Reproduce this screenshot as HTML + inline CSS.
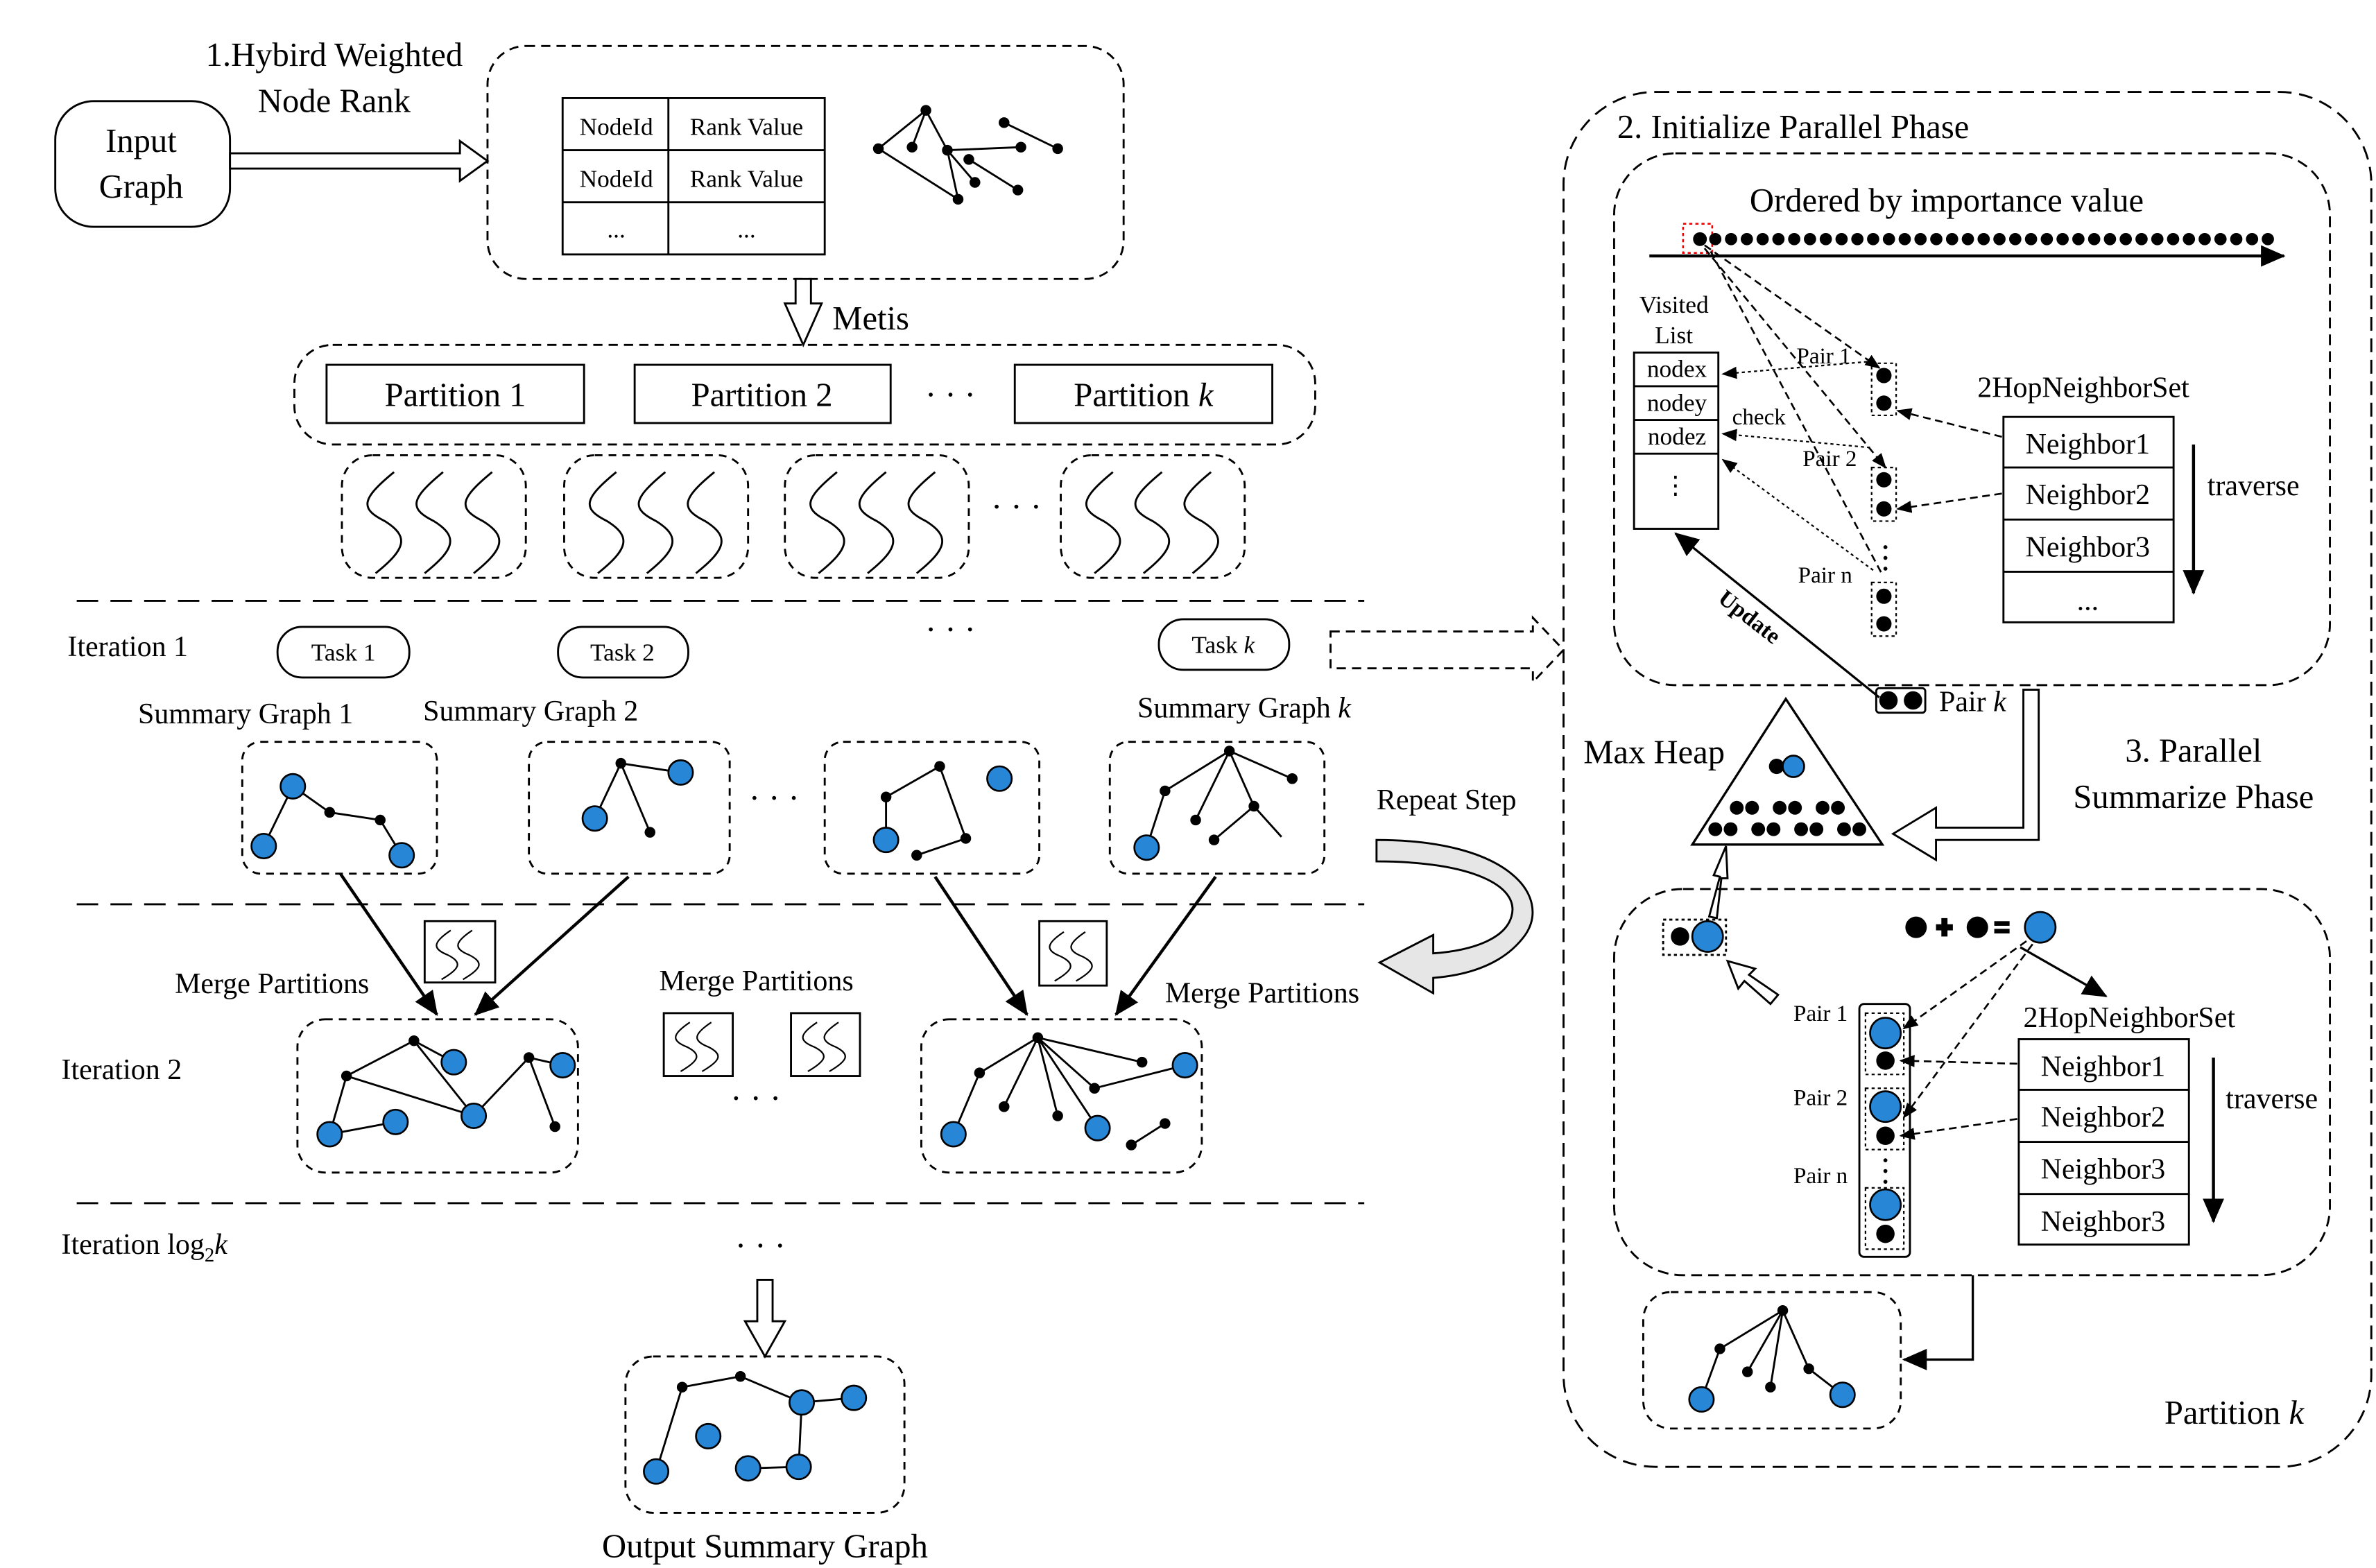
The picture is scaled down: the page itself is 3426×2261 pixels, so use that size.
<!DOCTYPE html>
<html><head><meta charset="utf-8"><style>html,body{margin:0;padding:0;background:#fff}svg{display:block}svg text{font-family:"Liberation Serif",serif;fill:#000}</style></head>
<body>
<svg width="3426" height="2261" viewBox="0 0 1550 1023" xmlns="http://www.w3.org/2000/svg" font-family="Liberation Serif, serif">
<defs>
<marker id="ah" markerWidth="10" markerHeight="10" refX="9" refY="5" orient="auto" markerUnits="userSpaceOnUse"><path d="M0,1 L10,5 L0,9 Z" fill="#000"/></marker>
<marker id="ahb" markerWidth="16" markerHeight="14" refX="15" refY="7" orient="auto" markerUnits="userSpaceOnUse"><path d="M0,0 L16,7 L0,14 Z" fill="#000"/></marker>
<g id="sq"><path d="M14,6 C-8,24 -8,30 8,38 C24,48 22,56 2,72" fill="none" stroke="#000" stroke-width="1.3"/></g>
<g id="sqs"><path d="M8,4 C-4,12 -4,16 6,20 C16,25 14,29 2,36" fill="none" stroke="#000" stroke-width="1"/></g>
</defs>
<g fill="none" stroke="#000" stroke-width="1.3">
<rect x="36" y="66" width="114" height="82" rx="25"/>
<polygon points="150,100 300,100 300,92 318,105 300,118 300,110 150,110" fill="#fff"/>
<rect x="318" y="30" width="415" height="152" rx="25" stroke-dasharray="6,4"/>
<rect x="367" y="64" width="171" height="102"/>
<line x1="367" y1="98" x2="538" y2="98"/><line x1="367" y1="132" x2="538" y2="132"/><line x1="436" y1="64" x2="436" y2="166"/>
<path d="M573,97 L604,72 L595,96 M604,72 L618,98 L625,130 L573,97 M618,98 L666,96 M632,104 L664,124 M618,98 L636,119 M655,80 L690,97"/>
<polygon points="519,182 529,182 529,198 536,198 524,225 512,198 519,198" fill="#fff"/>
<rect x="192" y="225" width="666" height="65" rx="25" stroke-dasharray="6,4"/>
<rect x="213" y="238" width="168" height="38"/><rect x="414" y="238" width="167" height="38"/><rect x="662" y="238" width="168" height="38"/>
<rect x="223" y="297" width="120" height="80" rx="20" stroke-dasharray="5,4"/>
<rect x="368" y="297" width="120" height="80" rx="20" stroke-dasharray="5,4"/>
<rect x="512" y="297" width="120" height="80" rx="20" stroke-dasharray="5,4"/>
<rect x="692" y="297" width="120" height="80" rx="20" stroke-dasharray="5,4"/>
<g stroke-dasharray="14,8"><line x1="50" y1="392" x2="890" y2="392"/><line x1="50" y1="590" x2="890" y2="590"/><line x1="50" y1="785" x2="890" y2="785"/></g>
<rect x="181" y="409" width="86" height="33" rx="16"/><rect x="364" y="409" width="85" height="33" rx="16"/><rect x="756" y="404" width="85" height="33" rx="16"/>
<polygon points="868,412 1000,412 1000,403 1020,424 1000,445 1000,436 868,436" stroke-dasharray="6,4"/>
<rect x="158" y="484" width="127" height="86" rx="12" stroke-dasharray="5,4"/>
<rect x="345" y="484" width="131" height="86" rx="12" stroke-dasharray="5,4"/>
<rect x="538" y="484" width="140" height="86" rx="12" stroke-dasharray="5,4"/>
<rect x="724" y="484" width="140" height="86" rx="12" stroke-dasharray="5,4"/>
<path d="M191,513 L172,552 M191,513 L215,530 L248,535 L262,558"/>
<path d="M405,498 L388,534 M405,498 L444,504 M405,498 L424,543"/>
<path d="M578,520 L613,500 L630,547 L598,558 M578,520 L578,548"/>
<path d="M802,490 L760,516 L748,553 M802,490 L780,535 M802,490 L818,526 L792,548 M802,490 L843,508 M818,526 L836,546"/>
<g stroke-width="2" marker-end="url(#ahb)"><line x1="222" y1="570" x2="285" y2="662"/><line x1="410" y1="572" x2="310" y2="662"/><line x1="610" y1="572" x2="670" y2="662"/><line x1="793" y1="572" x2="728" y2="662"/></g>
<rect x="277" y="601" width="46" height="40"/><rect x="678" y="601" width="44" height="42"/><rect x="433" y="661" width="45" height="41"/><rect x="516" y="661" width="45" height="41"/>
<rect x="194" y="665" width="183" height="100" rx="18" stroke-dasharray="5,4"/>
<rect x="601" y="665" width="183" height="100" rx="18" stroke-dasharray="5,4"/>
<path d="M215,740 L258,732 M215,740 L226,702 L270,679 L296,693 M270,679 L309,728 M226,702 L309,728 L345,690 L367,695 M345,690 L362,735"/>
<path d="M622,740 L639,700 L677,677 L655,722 M677,677 L690,728 M677,677 L716,736 M677,677 L714,710 L773,695 M677,677 L745,693 M738,747 L760,733"/>
<path d="M898,548 C985,548 1012,585 995,610 C982,628 960,636 935,638 L935,648 L900,628 L935,610 L935,622 C962,620 982,612 986,598 C992,578 960,562 898,562 Z" fill="#e6e6e6"/>
<polygon points="494,835 504,835 504,862 512,862 499,885 486,862 494,862" fill="#fff"/>
<rect x="408" y="885" width="182" height="102" rx="18" stroke-dasharray="5,4"/>
<path d="M428,960 L445,905 L483,898 L523,915 L557,912 M523,915 L521,957 L488,958"/>
<rect x="1020" y="60" width="527" height="897" rx="60" stroke-dasharray="9,5"/>
<rect x="1053" y="100" width="467" height="347" rx="40" stroke-dasharray="7,4"/>
<line x1="1076" y1="167" x2="1490" y2="167" stroke-width="2" marker-end="url(#ahb)"/>
<rect x="1098" y="146" width="19" height="19" stroke="#e00" stroke-dasharray="2,2" stroke-width="1.2"/>
<rect x="1066" y="230" width="55" height="115"/>
<line x1="1066" y1="252" x2="1121" y2="252"/><line x1="1066" y1="274" x2="1121" y2="274"/><line x1="1066" y1="296" x2="1121" y2="296"/>
<g stroke-dasharray="5,3" stroke-width="1.2">
<line x1="1112" y1="160" x2="1226" y2="240" marker-end="url(#ah)"/>
<line x1="1112" y1="162" x2="1230" y2="305" marker-end="url(#ah)"/>
<line x1="1116" y1="164" x2="1228" y2="375"/>
<line x1="1306" y1="285" x2="1238" y2="268" marker-end="url(#ah)"/>
<line x1="1306" y1="322" x2="1238" y2="332" marker-end="url(#ah)"/>
</g>
<g stroke-dasharray="2,2" stroke-width="1">
<line x1="1218" y1="236" x2="1124" y2="244" marker-end="url(#ah)"/>
<line x1="1220" y1="292" x2="1124" y2="283" marker-end="url(#ah)"/>
<line x1="1222" y1="372" x2="1124" y2="300" marker-end="url(#ah)"/>
<rect x="1221" y="237" width="16" height="34"/><rect x="1221" y="305" width="16" height="35"/><rect x="1221" y="380" width="16" height="35"/>
</g>
<rect x="1307" y="272" width="111" height="134"/>
<line x1="1307" y1="305" x2="1418" y2="305"/><line x1="1307" y1="339" x2="1418" y2="339"/><line x1="1307" y1="373" x2="1418" y2="373"/>
<line x1="1431" y1="290" x2="1431" y2="387" stroke-width="2" marker-end="url(#ahb)"/>
<rect x="1224" y="449" width="32" height="16" rx="2"/>
<line x1="1226" y1="455" x2="1093" y2="348" stroke-width="1.5" marker-end="url(#ahb)"/>
<polygon points="1165,456 1104,551 1228,551" stroke-width="1.5"/>
<polygon points="1320,450 1330,450 1330,548 1263,548 1263,561 1235,544 1263,527 1263,540 1320,540" fill="#fff"/>
<polygon points="1115,598 1122,572 1118,571 1126,552 1127,573 1123,573 1120,599" fill="#fff"/>
<rect x="1053" y="580" width="467" height="252" rx="45" stroke-dasharray="7,4"/>
<rect x="1085" y="600" width="41" height="23" stroke-dasharray="2,2"/>
<polygon points="1160,649 1155,655 1138,640 1134,645 1127,627 1145,632 1141,636" fill="#fff"/>
<line x1="1318" y1="618" x2="1374" y2="650" stroke-width="1.5" marker-end="url(#ahb)"/>
<g stroke-dasharray="5,3" stroke-width="1.2">
<line x1="1322" y1="614" x2="1242" y2="671" marker-end="url(#ah)"/>
<line x1="1326" y1="616" x2="1242" y2="729" marker-end="url(#ah)"/>
<line x1="1316" y1="694" x2="1240" y2="692" marker-end="url(#ah)"/>
<line x1="1316" y1="730" x2="1240" y2="741" marker-end="url(#ah)"/>
</g>
<rect x="1213" y="655" width="33" height="165" rx="3"/>
<g stroke-dasharray="2,2" stroke-width="1"><rect x="1217" y="661" width="25" height="40"/><rect x="1217" y="710" width="25" height="40"/><rect x="1217" y="775" width="25" height="40"/></g>
<rect x="1317" y="678" width="111" height="134"/>
<line x1="1317" y1="711" x2="1428" y2="711"/><line x1="1317" y1="745" x2="1428" y2="745"/><line x1="1317" y1="779" x2="1428" y2="779"/>
<line x1="1444" y1="690" x2="1444" y2="797" stroke-width="2" marker-end="url(#ahb)"/>
<rect x="1072" y="843" width="168" height="89" rx="18" stroke-dasharray="5,4"/>
<polyline points="1287,832 1287,887 1242,887" stroke-width="1.5" marker-end="url(#ahb)"/>
<path d="M1163,855 L1122,880 L1110,913 M1163,855 L1140,895 M1163,855 L1180,893 L1202,910 M1155,905 L1163,855"/>
</g>
<g>
<use href="#sq" x="243" y="302"/><use href="#sq" x="275" y="302"/><use href="#sq" x="307" y="302"/>
<use href="#sq" x="388" y="302"/><use href="#sq" x="420" y="302"/><use href="#sq" x="452" y="302"/>
<use href="#sq" x="532" y="302"/><use href="#sq" x="564" y="302"/><use href="#sq" x="596" y="302"/>
<use href="#sq" x="712" y="302"/><use href="#sq" x="744" y="302"/><use href="#sq" x="776" y="302"/>
<use href="#sqs" x="286" y="603"/><use href="#sqs" x="300" y="603"/>
<use href="#sqs" x="686" y="604"/><use href="#sqs" x="700" y="604"/>
<use href="#sqs" x="442" y="663"/><use href="#sqs" x="456" y="663"/>
<use href="#sqs" x="525" y="663"/><use href="#sqs" x="539" y="663"/>
</g>
<g fill="#000">
<circle cx="573" cy="97" r="3.5"/><circle cx="604" cy="72" r="3.5"/><circle cx="595" cy="96" r="3.5"/><circle cx="618" cy="98" r="3.5"/><circle cx="625" cy="130" r="3.5"/><circle cx="636" cy="119" r="3.5"/><circle cx="666" cy="96" r="3.5"/><circle cx="655" cy="80" r="3.5"/><circle cx="690" cy="97" r="3.5"/><circle cx="632" cy="104" r="3.5"/><circle cx="664" cy="124" r="3.5"/>
<circle cx="215" cy="530" r="3.5"/><circle cx="248" cy="535" r="3.5"/>
<circle cx="405" cy="498" r="3.5"/><circle cx="424" cy="543" r="3.5"/>
<circle cx="578" cy="520" r="3.5"/><circle cx="613" cy="500" r="3.5"/><circle cx="630" cy="547" r="3.5"/><circle cx="598" cy="558" r="3.5"/>
<circle cx="802" cy="490" r="3.5"/><circle cx="760" cy="516" r="3.5"/><circle cx="843" cy="508" r="3.5"/><circle cx="780" cy="535" r="3.5"/><circle cx="792" cy="548" r="3.5"/><circle cx="818" cy="526" r="3.5"/>
<circle cx="270" cy="679" r="3.5"/><circle cx="226" cy="702" r="3.5"/><circle cx="345" cy="690" r="3.5"/><circle cx="362" cy="735" r="3.5"/>
<circle cx="677" cy="677" r="3.5"/><circle cx="639" cy="700" r="3.5"/><circle cx="655" cy="722" r="3.5"/><circle cx="690" cy="728" r="3.5"/><circle cx="714" cy="710" r="3.5"/><circle cx="745" cy="693" r="3.5"/><circle cx="760" cy="733" r="3.5"/><circle cx="738" cy="747" r="3.5"/>
<circle cx="445" cy="905" r="3.5"/><circle cx="483" cy="898" r="3.5"/>
<circle cx="1163" cy="855" r="3.5"/><circle cx="1122" cy="880" r="3.5"/><circle cx="1180" cy="893" r="3.5"/><circle cx="1155" cy="905" r="3.5"/><circle cx="1140" cy="895" r="3.5"/>
<circle cx="1109" cy="156" r="4.5"/>
<circle cx="1229" cy="245" r="5"/><circle cx="1229" cy="263" r="5"/><circle cx="1229" cy="313" r="5"/><circle cx="1229" cy="332" r="5"/><circle cx="1229" cy="389" r="5"/><circle cx="1229" cy="407" r="5"/>
<circle cx="1232" cy="457" r="6"/><circle cx="1248" cy="457" r="6"/>
<circle cx="1096" cy="611" r="6"/>
<circle cx="1250" cy="605" r="7"/><circle cx="1290" cy="605" r="7"/>
<rect x="1263" y="603" width="11" height="4"/><rect x="1266.5" y="599" width="4" height="12"/>
<rect x="1301" y="601" width="10" height="3"/><rect x="1301" y="606" width="10" height="3"/>
<circle cx="1230" cy="692" r="6"/><circle cx="1230" cy="741" r="6"/><circle cx="1230" cy="805" r="6"/>
<circle cx="1159" cy="500" r="5"/>
<g id="pr"><circle cx="1133" cy="527" r="4.5"/><circle cx="1143" cy="527" r="4.5"/></g>
<use href="#pr" x="28"/><use href="#pr" x="56"/>
<use href="#pr" x="-14" y="14"/><use href="#pr" x="14" y="14"/><use href="#pr" x="42" y="14"/><use href="#pr" x="70" y="14"/>
</g>
<g fill="#000"><circle cx="1230" cy="357" r="1.3"/><circle cx="1230" cy="364" r="1.3"/><circle cx="1230" cy="371" r="1.3"/><circle cx="1230" cy="757" r="1.3"/><circle cx="1230" cy="764" r="1.3"/><circle cx="1230" cy="771" r="1.3"/></g>
<path d="M1119,156 H1480" stroke="#000" stroke-width="8" stroke-linecap="round" stroke-dasharray="0,10.3"/>
<g fill="#2787d6" stroke="#000" stroke-width="1.2">
<circle cx="191" cy="513" r="8"/><circle cx="172" cy="552" r="8"/><circle cx="262" cy="558" r="8"/>
<circle cx="444" cy="504" r="8"/><circle cx="388" cy="534" r="8"/>
<circle cx="652" cy="508" r="8"/><circle cx="578" cy="548" r="8"/>
<circle cx="748" cy="553" r="8"/>
<circle cx="296" cy="693" r="8"/><circle cx="258" cy="732" r="8"/><circle cx="215" cy="740" r="8"/><circle cx="309" cy="728" r="8"/><circle cx="367" cy="695" r="8"/>
<circle cx="622" cy="740" r="8"/><circle cx="716" cy="736" r="8"/><circle cx="773" cy="695" r="8"/>
<circle cx="523" cy="915" r="8"/><circle cx="557" cy="912" r="8"/><circle cx="462" cy="937" r="8"/><circle cx="428" cy="960" r="8"/><circle cx="488" cy="958" r="8"/><circle cx="521" cy="957" r="8"/>
<circle cx="1110" cy="913" r="8"/><circle cx="1202" cy="910" r="8"/>
<circle cx="1114" cy="611" r="10"/><circle cx="1331" cy="605" r="10"/>
<circle cx="1230" cy="674" r="10"/><circle cx="1230" cy="722" r="10"/><circle cx="1230" cy="786" r="10"/>
<circle cx="1170" cy="500" r="7"/>
</g>
<g font-size="22" text-anchor="middle" font-family="Liberation Serif, serif">
<text x="92" y="99">Input</text><text x="92" y="129">Graph</text>
<text x="218" y="43">1.Hybird Weighted</text><text x="218" y="73">Node Rank</text>
<text x="297" y="265">Partition 1</text><text x="497" y="265">Partition 2</text><text x="746" y="265">Partition <tspan font-style="italic">k</tspan></text>
<text x="620" y="265">· · ·</text><text x="663" y="338">· · ·</text><text x="620" y="418">· · ·</text><text x="505" y="528">· · ·</text><text x="493" y="724">· · ·</text><text x="496" y="820">· · ·</text>
<text x="499" y="1016">Output Summary Graph</text>
<text x="1270" y="138">Ordered by importance value</text>
<text x="1431" y="497">3. Parallel</text><text x="1431" y="527">Summarize Phase</text>
</g>
<g font-size="22" font-family="Liberation Serif, serif"><text x="543" y="215">Metis</text><text x="1055" y="90">2. Initialize Parallel Phase</text><text x="1033" y="498">Max Heap</text><text x="1412" y="929">Partition <tspan font-style="italic">k</tspan></text></g>
<g font-size="16" text-anchor="middle" font-family="Liberation Serif, serif">
<text x="402" y="88">NodeId</text><text x="487" y="88">Rank Value</text><text x="402" y="122">NodeId</text><text x="487" y="122">Rank Value</text><text x="402" y="155">...</text><text x="487" y="155">...</text>
<text x="224" y="431">Task 1</text><text x="406" y="431">Task 2</text><text x="798" y="426">Task <tspan font-style="italic">k</tspan></text>
<text x="1092" y="204">Visited</text><text x="1092" y="224">List</text>
<text x="1094" y="246">nodex</text><text x="1094" y="268">nodey</text><text x="1094" y="290">nodez</text><text x="1093" y="322">⋮</text>
</g>
<g font-size="15" font-family="Liberation Serif, serif"><text x="1172" y="237">Pair 1</text><text x="1176" y="304">Pair 2</text><text x="1173" y="380">Pair n</text><text x="1130" y="277">check</text>
<text x="1170" y="666">Pair 1</text><text x="1170" y="721">Pair 2</text><text x="1170" y="772">Pair n</text>
<text transform="translate(1120,392) rotate(38)" font-weight="bold" font-size="15">Update</text></g>
<g font-size="19" font-family="Liberation Serif, serif">
<text x="44" y="428">Iteration 1</text><text x="40" y="704">Iteration 2</text><text x="40" y="818">Iteration log<tspan font-size="13" dy="5">2</tspan><tspan dy="-5" font-style="italic">k</tspan></text>
<text x="90" y="472">Summary Graph 1</text><text x="276" y="470">Summary Graph 2</text><text x="742" y="468">Summary Graph <tspan font-style="italic">k</tspan></text>
<text x="114" y="648">Merge Partitions</text><text x="430" y="646">Merge Partitions</text><text x="760" y="654">Merge Partitions</text>
<text x="898" y="528">Repeat Step</text>
<text x="1290" y="259">2HopNeighborSet</text><text x="1320" y="670">2HopNeighborSet</text>
<text x="1440" y="323">traverse</text><text x="1452" y="723">traverse</text>
<text x="1265" y="464">Pair <tspan font-style="italic">k</tspan></text>
</g>
<g font-size="19" text-anchor="middle" font-family="Liberation Serif, serif">
<text x="1362" y="296">Neighbor1</text><text x="1362" y="329">Neighbor2</text><text x="1362" y="363">Neighbor3</text><text x="1362" y="398">...</text>
<text x="1372" y="702">Neighbor1</text><text x="1372" y="735">Neighbor2</text><text x="1372" y="769">Neighbor3</text><text x="1372" y="803">Neighbor3</text>
</g>
</svg>
</body></html>
